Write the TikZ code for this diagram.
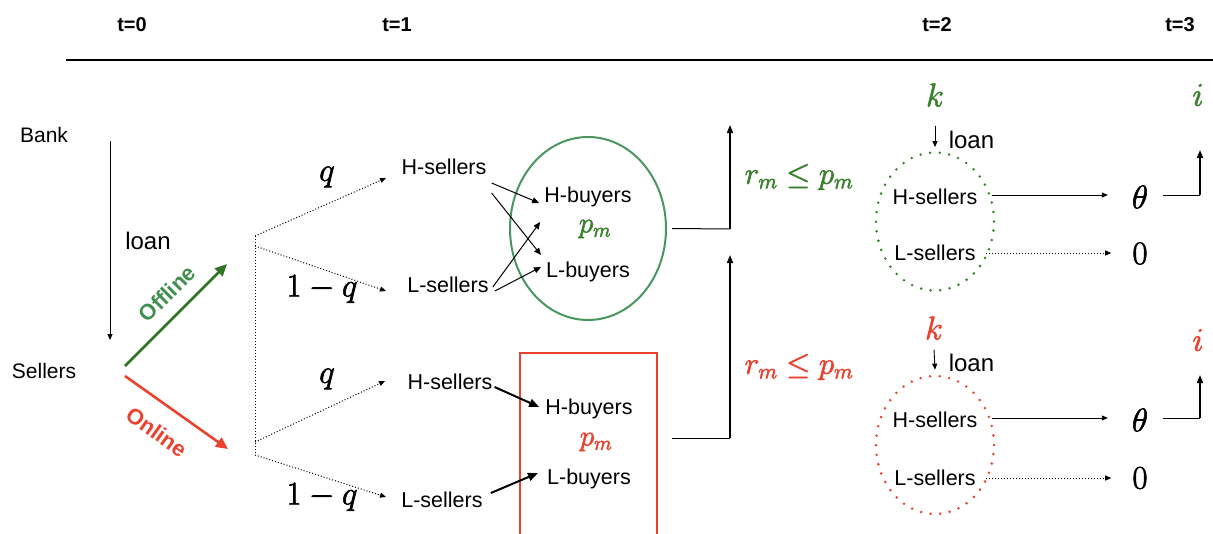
\documentclass[tikz,border=0pt]{standalone}
\usepackage{fix-cm}
\usepackage[no-math]{fontspec}
\newfontfamily\arialfont{Liberation Sans}
\usetikzlibrary{arrows.meta,shapes.geometric}
\definecolor{gdark}{RGB}{46,116,36}
\definecolor{gtext}{RGB}{64,142,80}
\definecolor{gell}{RGB}{74,150,94}
\definecolor{gmath}{RGB}{58,128,46}
\definecolor{rd}{RGB}{233,66,46}
\newcommand\heavymath[1]{\special{pdf:literal direct 2 Tr 0.6 w}#1\special{pdf:literal direct 0 Tr}}
\begin{document}
\begin{tikzpicture}[x=1pt,y=-1pt,
  txt/.style={font=\arialfont\fontsize{21.5}{24}\selectfont, inner sep=0pt, text height=15.5pt, text depth=4.5pt},
  bigtxt/.style={font=\arialfont\fontsize{24}{26}\selectfont, inner sep=0pt, text height=17.5pt, text depth=5pt},
  tlab/.style={font=\arialfont\bfseries\fontsize{20}{22}\selectfont, inner sep=0pt},
  chan/.style={font=\arialfont\bfseries\fontsize{22}{24}\selectfont, inner sep=0pt, sloped},
  mth/.style={inner sep=0pt, font=\fontsize{33}{36}\selectfont},
  rmth/.style={inner sep=0pt, font=\fontsize{31}{34}\selectfont},
  pmth/.style={inner sep=0pt, font=\fontsize{29}{31}\selectfont},
  thinarr/.style={line width=0.9pt, -{Triangle[length=6pt,width=5pt]}},
  crossarr/.style={line width=1pt, -{Triangle[length=7pt,width=6pt]}},
  dotarr/.style={line width=1pt, dash pattern=on 1pt off 2pt, -{Triangle[length=6pt,width=5pt]}},
  dotline/.style={line width=1pt, dash pattern=on 1pt off 2pt},
  thickarr/.style={line width=2pt, -{Triangle[length=10pt,width=8pt]}},
  uparr/.style={line width=1.6pt, -{Triangle[length=8pt,width=6pt]}},
  hline/.style={line width=1pt},
  chanarr/.style={line width=2.6pt, -{Triangle[length=12pt,width=11pt]}},
  dotcirc/.style={ellipse, line width=2.8pt, dash pattern=on 0pt off 9.6pt, line cap=round, minimum width=118pt, minimum height=138pt, inner sep=0pt}
]
\useasboundingbox (0,0) rectangle (1213,533);

% time axis
\node[tlab] (t0) at (132,25) {t=0};
\node[tlab] (t1) at (397,25) {t=1};
\node[tlab] (t2) at (937,25) {t=2};
\node[tlab] (t3) at (1180,25) {t=3};
\coordinate (ruleL) at (66,60);
\coordinate (ruleR) at (1213,60);
\draw[line width=1.3pt] (ruleL) -- (ruleR);

% t=0
\node[txt, font=\arialfont\fontsize{21}{24}\selectfont] (bank) at (44,137) {Bank};
\node[txt, font=\arialfont\fontsize{21}{24}\selectfont] (sellers) at (44,373) {Sellers};
\coordinate (bk1) at (110,141);
\coordinate (bk2) at (110,340);
\draw[thinarr] (bk1) -- (bk2);
\node[bigtxt] (loan0) at (148,243) {loan};

\coordinate (of1) at (125,366);
\coordinate (of2) at (227,264);
\coordinate (on1) at (125,376);
\coordinate (on2) at (228,449);
\draw[chanarr, gdark] (of1) -- (of2) node[chan, pos=0.56, above=12pt, text=gtext] (offl) {Offline};
\draw[chanarr, rd] (on1) -- (on2) node[chan, pos=0.46, below=18pt, text=rd] (onl) {Online};

% tree
\coordinate (ta) at (255,236);
\coordinate (tb) at (255,246);
\coordinate (tc) at (255,442);
\coordinate (td) at (255,455);
\coordinate (qa) at (386,178);
\coordinate (qb) at (386,291);
\coordinate (qc) at (385,381);
\coordinate (qd) at (386,497);
\draw[dotline] (ta) -- (td);
\draw[dotarr] (ta) -- (qa);
\draw[dotarr] (tb) -- (qb);
\draw[dotarr] (tc) -- (qc);
\draw[dotarr] (td) -- (qd);
\node[mth] (qla) at (327,177) {\heavymath{$q$}};
\node[mth] (qlb) at (322,289) {\heavymath{$1-q$}};
\node[mth] (qlc) at (327,379) {\heavymath{$q$}};
\node[mth] (qld) at (322,497) {\heavymath{$1-q$}};

% offline market
\node[txt] (hs1) at (444,169) {H-sellers};
\node[txt] (ls1) at (448,287) {L-sellers};
\node[draw=gell, line width=2pt, ellipse, minimum width=156pt, minimum height=183pt, inner sep=0pt] (e1) at (588,228.5) {};
\node[txt] (hb1) at (588,197) {H-buyers};
\node[pmth, text=gmath] (pm1) at (595,229) {\heavymath{$p_m$}};
\node[txt] (lb1) at (588,272) {L-buyers};
\draw[crossarr] ([shift={(5,14)}]hs1.east) -- ([shift={(-5,6)}]hb1.west);
\draw[crossarr] ([shift={(5,24)}]hs1.east) -- ([shift={(-5,-17)}]lb1.west);
\draw[crossarr] ([shift={(4,0)}]ls1.east) -- ([shift={(-4,25)}]hb1.west);
\draw[crossarr] ([shift={(6,4)}]ls1.east) -- ([shift={(-5,-5)}]lb1.west);

% online market
\node[txt] (hs2) at (450,384) {H-sellers};
\node[txt] (ls2) at (442,502) {L-sellers};
\begin{scope}
\clip (0,0) rectangle (1213,533);
\node[draw=rd, line width=2.6pt, rectangle, minimum width=137pt, minimum height=200pt, inner sep=0pt] (box2) at (588.5,453) {};
\end{scope}
\node[txt] (hb2) at (589,409) {H-buyers};
\node[pmth, text=rd] (pm2) at (596,442) {\heavymath{$p_m$}};
\node[txt] (lb2) at (589,479) {L-buyers};
\draw[thickarr] ([shift={(2,3)}]hs2.east) -- ([shift={(-6,-2)}]hb2.west);
\draw[thickarr] ([shift={(8,-9)}]ls2.east) -- ([shift={(-9,-6)}]lb2.west);

% repayment arrows
\coordinate (c1) at (730,229);
\coordinate (u1) at (730,125);
\coordinate (s2) at (672,438);
\coordinate (c2) at (730,438);
\coordinate (u2) at (730,255);
\draw[hline] ([xshift=5pt]e1.east) -- (c1);
\draw[uparr] (c1) -- (u1);
\draw[hline] (s2) -- (c2);
\draw[uparr] (c2) -- (u2);
\node[rmth, text=gmath] (rp1) at (799,177) {\heavymath{$r_m \leq p_m$}};
\node[rmth, text=rd] (rp2) at (799,367) {\heavymath{$r_m \leq p_m$}};

% t=2 offline
\node[mth, text=gmath] (kg) at (935,95) {\heavymath{$k$}};
\node[dotcirc, draw=gmath] (ge) at (935,221.5) {};
\draw[thinarr] ([shift={(0,19)}]kg.south) -- ([shift={(0,-4)}]ge.north);
\node[bigtxt] (loang) at (971.5,142) {loan};
\node[txt] (hsg) at (935,199) {H-sellers};
\node[txt] (lsg) at (935,255) {L-sellers};
\node[mth] (thg) at (1140,197) {\heavymath{$\theta$}};
\node[mth] (zg) at (1140,253.5) {\heavymath{$0$}};
\draw[thinarr] ([shift={(14,-4)}]hsg.east) -- ([shift={(-24,-2)}]thg.west);
\draw[dotarr] ([shift={(10,-2)}]lsg.east) -- ([shift={(-21,-0.5)}]zg.west);
\coordinate (cg) at (1200,195);
\coordinate (ug) at (1200,150);
\node[mth, text=gmath] (ig) at (1198,95) {\heavymath{$i$}};
\draw[hline] ([shift={(15,-2)}]thg.east) -- (cg);
\draw[uparr] (cg) -- (ug);

% t=2 online
\node[mth, text=rd] (kr) at (934,328) {\heavymath{$k$}};
\node[dotcirc, draw=rd] (re) at (935,445) {};
\draw[thinarr] ([shift={(0,10)}]kr.south) -- ([shift={(0,-5)}]re.north);
\node[bigtxt] (loanr) at (971.5,365.5) {loan};
\node[txt] (hsr) at (935,422) {H-sellers};
\node[txt] (lsr) at (935,480) {L-sellers};
\node[mth] (thr) at (1140,420) {\heavymath{$\theta$}};
\node[mth] (zr) at (1140,478) {\heavymath{$0$}};
\draw[thinarr] ([shift={(14,-4)}]hsr.east) -- ([shift={(-24,-2)}]thr.west);
\draw[dotarr] ([shift={(10,-2)}]lsr.east) -- ([shift={(-21,0)}]zr.west);
\coordinate (cr) at (1200,418);
\coordinate (ur) at (1200,375);
\node[mth, text=rd] (ir) at (1198,340) {\heavymath{$i$}};
\draw[hline] ([shift={(15,-2)}]thr.east) -- (cr);
\draw[uparr] (cr) -- (ur);
\end{tikzpicture}
\end{document}
